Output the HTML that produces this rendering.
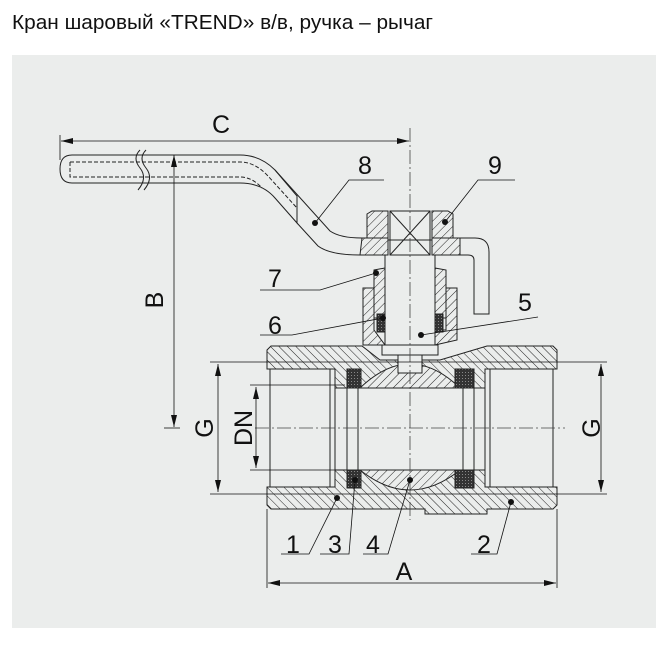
<!DOCTYPE html>
<html><head><meta charset="utf-8"><style>
html,body{margin:0;padding:0;background:#fff;width:666px;height:666px;overflow:hidden}
svg{display:block}
text{font-family:"Liberation Sans",Arial,sans-serif;fill:#111}
</style></head><body>
<svg width="666" height="666" viewBox="0 0 666 666" xmlns="http://www.w3.org/2000/svg">
<defs>
<pattern id="h1" width="6" height="6" patternUnits="userSpaceOnUse" patternTransform="rotate(45)">
<rect width="6" height="6" fill="#ebedec"/><line x1="0" y1="0" x2="0" y2="6" stroke="#222" stroke-width="1"/></pattern>
<pattern id="h2" width="6" height="6" patternUnits="userSpaceOnUse" patternTransform="rotate(-45)">
<rect width="6" height="6" fill="#ebedec"/><line x1="0" y1="0" x2="0" y2="6" stroke="#222" stroke-width="1"/></pattern>
<pattern id="dk" width="3" height="3" patternUnits="userSpaceOnUse">
<rect width="3" height="3" fill="#333"/><rect width="1" height="1" fill="#888"/></pattern>
<marker id="ar" viewBox="0 0 12 6" refX="12" refY="3" markerWidth="12" markerHeight="6" orient="auto-start-reverse" markerUnits="userSpaceOnUse"><path d="M0,0 L12,3 L0,6z" fill="#111"/></marker>
</defs>
<text x="12" y="29" font-size="20" textLength="421" lengthAdjust="spacingAndGlyphs">Кран шаровый «TREND» в/в, ручка – рычаг</text>
<rect x="12" y="55" width="644" height="573" fill="#ebedec"/>
<g stroke="#222" stroke-width="1" fill="none">
<path d="M267,350 L271,346 L362,346 L380,360 L440,360 L487,346 L553,346 L557,350 L557,369 L485,369 L485,388 L335,388 L335,369 L267,369 Z" fill="url(#h2)"/>
<path d="M267,487 L335,487 L335,470 L485,470 L485,487 L557,487 L557,505 L553,509 L487,509 L487,514 L425,514 L425,509 L271,509 L267,505 Z" fill="url(#h2)"/>
<path d="M360,388 Q410,340 460,388 Z" fill="url(#h1)"/>
<path d="M360,470 Q410,510 460,470 Z" fill="url(#h1)"/>
<rect x="347" y="369" width="14" height="19" fill="url(#dk)"/>
<rect x="455" y="369" width="19" height="19" fill="url(#dk)"/>
<rect x="347" y="470" width="14" height="18" fill="url(#dk)"/>
<rect x="455" y="470" width="19" height="18" fill="url(#dk)"/>
<rect x="270" y="369" width="65" height="118"/>
<line x1="330" y1="369" x2="330" y2="487"/>
<rect x="485" y="369" width="68" height="118"/>
<line x1="490" y1="369" x2="490" y2="487"/>
<line x1="347" y1="388" x2="347" y2="470"/><line x1="358" y1="388" x2="358" y2="470"/>
<line x1="463" y1="388" x2="463" y2="470"/><line x1="474" y1="388" x2="474" y2="470"/>
<path d="M363,288 L374,288 L374,330 L385,345 L363,345 Z" fill="url(#h1)"/>
<path d="M446,288 L457,288 L457,340 L435,345 L435,330 L446,330 Z" fill="url(#h1)"/>
<path d="M374,270 L385,268 L385,318 L374,318 Z" fill="url(#h1)"/>
<path d="M435,268 L446,270 L446,318 L435,318 Z" fill="url(#h1)"/>
<rect x="377" y="314" width="8" height="18" fill="url(#dk)"/>
<rect x="435" y="314" width="8" height="18" fill="url(#dk)"/>
<rect x="385" y="240" width="50" height="105" fill="#ebedec"/>
<rect x="382" y="345" width="56" height="10" fill="#ebedec"/>
<rect x="398" y="355" width="24" height="18" fill="#ebedec"/>
<path d="M367,214 L372,211 L388,211 L388,238 L367,238 Z" fill="url(#h1)"/>
<path d="M432,211 L448,211 L453,214 L453,238 L432,238 Z" fill="url(#h1)"/>
<path d="M362,238 L388,238 L388,255 L360,255 Z" fill="url(#h1)"/>
<path d="M432,238 L460,238 L460,255 L432,255 Z" fill="url(#h1)"/>
<rect x="390" y="211" width="40" height="44"/>
<path d="M390,211 L430,255 M430,211 L390,255"/>
<path d="M460,238 L475,238 Q489,238 489,252 L489,314 L474,314 L474,260 Q474,255 468,255 L460,255"/>
<path d="M72,155 L240,155 Q260,155 275,170 L297,196 L297,223 L275,198 Q262,183 240,183 L72,183 Q60,183 60,169 Q60,155 72,155 Z" fill="#ebedec"/>
<path d="M275,170 L330,231 Q340,238 362,238 M297,223 L318,246 Q330,255 360,255" />
<path d="M70,162 L240,162 Q255,162 268,176 L297,208 M70,162 L70,177 L240,177 Q252,177 262,188" stroke-dasharray="4,2"/>
<path d="M140,150 Q132,158 140,168 Q148,178 138,190 M146,150 Q138,158 146,168 Q154,178 144,190" fill="none"/>
</g>
<g stroke="#444" stroke-width="0.8" stroke-dasharray="14,3,2,3">
<line x1="255" y1="428" x2="565" y2="428"/>
<line x1="410" y1="128" x2="410" y2="520"/>
</g>
<g stroke="#111" stroke-width="0.8" fill="none">
<line x1="210" y1="362" x2="607" y2="362"/><line x1="210" y1="494" x2="607" y2="494"/>
<line x1="250" y1="385" x2="345" y2="385"/><line x1="250" y1="470" x2="345" y2="470"/>
<line x1="218" y1="364" x2="218" y2="492" marker-start="url(#ar)" marker-end="url(#ar)"/>
<line x1="256" y1="387" x2="256" y2="468" marker-start="url(#ar)" marker-end="url(#ar)"/>
<line x1="601" y1="364" x2="601" y2="492" marker-start="url(#ar)" marker-end="url(#ar)"/>
<line x1="61" y1="141" x2="409" y2="141" marker-start="url(#ar)" marker-end="url(#ar)"/>
<line x1="60" y1="135" x2="60" y2="160"/>
<line x1="174" y1="155" x2="174" y2="427" marker-start="url(#ar)" marker-end="url(#ar)"/>
<line x1="164" y1="428" x2="180" y2="428"/>
<line x1="267" y1="509" x2="267" y2="588"/><line x1="557" y1="509" x2="557" y2="588"/>
<line x1="268" y1="583" x2="556" y2="583" marker-start="url(#ar)" marker-end="url(#ar)"/>
<path d="M315,223 L349,180 L384,180"/>
<path d="M445,222 L478,180 L515,180"/>
<path d="M260,290 L320,290 L376,273"/>
<path d="M260,335 L292,335 L383,318"/>
<path d="M421,335 L538,317"/>
<path d="M281,554 L309,554 L337,498"/>
<path d="M320,554 L349,554 L355,480"/>
<path d="M363,554 L388,554 L410,480"/>
<path d="M471,554 L497,554 L511,502"/>
</g>
<g fill="#111">
<circle cx="315" cy="223" r="3"/><circle cx="445" cy="222" r="3"/><circle cx="376" cy="273" r="3"/>
<circle cx="383" cy="318" r="3"/><circle cx="421" cy="335" r="3"/><circle cx="337" cy="498" r="3"/>
<circle cx="355" cy="480" r="3"/><circle cx="410" cy="480" r="3"/><circle cx="511" cy="502" r="3"/>
</g>
<g font-size="25">
<text x="221" y="133" text-anchor="middle">C</text>
<text x="365" y="174" text-anchor="middle">8</text>
<text x="495" y="174" text-anchor="middle">9</text>
<text x="275" y="287" text-anchor="middle">7</text>
<text x="275" y="334" text-anchor="middle">6</text>
<text x="525" y="311" text-anchor="middle">5</text>
<text x="293" y="553" text-anchor="middle">1</text>
<text x="335" y="553" text-anchor="middle">3</text>
<text x="373" y="553" text-anchor="middle">4</text>
<text x="484" y="553" text-anchor="middle">2</text>
<text x="404" y="580" text-anchor="middle">A</text>
<text transform="translate(163,300) rotate(-90)" text-anchor="middle">B</text>
<text transform="translate(213,428) rotate(-90)" text-anchor="middle">G</text>
<text transform="translate(252,428) rotate(-90)" text-anchor="middle">DN</text>
<text transform="translate(600,428) rotate(-90)" text-anchor="middle">G</text>
</g>
</svg>
</body></html>
